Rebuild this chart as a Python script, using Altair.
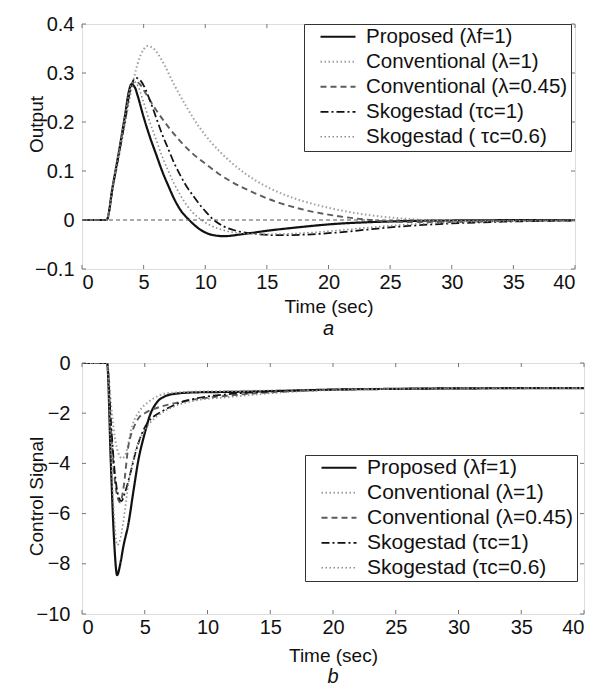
import altair as alt
import pandas as pd

FONT = "Liberation Sans"

names_a = ["Proposed (λf=1)", "Conventional (λ=1)", "Conventional (λ=0.45)",
           "Skogestad (τc=1)", "Skogestad ( τc=0.6)"]
names_b = ["Proposed (λf=1)", "Conventional (λ=1)", "Conventional (λ=0.45)",
           "Skogestad (τc=1)", "Skogestad (τc=0.6)"]
line_colors = ["#111111", "#a0a0a0", "#5c5c5c", "#111111", "#8c8c8c"]
line_dashes = [[1, 0], [1.5, 2.5], [6, 4], [8, 3, 2, 3], [1.5, 2.5]]
line_widths = [2.2, 1.6, 2.0, 2.0, 1.6]

# ---------- panel a : Output ----------
t_a_prop = [0, 2, 2.5, 3, 3.5, 3.8, 4, 4.3, 4.5, 5, 5.5, 6, 6.5, 7, 7.5, 8, 8.7, 9.5, 10.5, 11.5, 13, 15, 17.5, 20, 25, 30, 40]
y_a_prop = [0, 0, 0.07, 0.14, 0.215, 0.262, 0.277, 0.27, 0.255, 0.21, 0.17, 0.135, 0.10, 0.07, 0.042, 0.02, 0, -0.018, -0.03, -0.033, -0.029, -0.022, -0.015, -0.009, -0.003, -0.001, 0]

t_a_conv1 = [0, 2, 2.5, 3, 3.5, 4, 4.5, 5, 5.3, 5.8, 6.5, 7.5, 8.5, 9.5, 10.5, 12, 14, 16, 18, 20, 23, 26, 30, 35, 40]
y_a_conv1 = [0, 0, 0.065, 0.13, 0.2, 0.265, 0.318, 0.348, 0.355, 0.35, 0.325, 0.275, 0.23, 0.19, 0.158, 0.12, 0.082, 0.056, 0.038, 0.025, 0.011, 0.003, -0.002, -0.002, -0.001]

t_a_conv045 = [0, 2, 2.5, 3, 3.5, 4, 4.3, 4.7, 5.2, 6, 7, 8, 9, 10, 11, 12, 14, 16, 18, 20, 23, 26, 30, 35, 40]
y_a_conv045 = [0, 0, 0.068, 0.136, 0.205, 0.272, 0.283, 0.277, 0.257, 0.225, 0.19, 0.16, 0.135, 0.115, 0.096, 0.08, 0.055, 0.035, 0.021, 0.011, 0.001, -0.004, -0.004, -0.002, -0.001]

t_a_sko1 = [0, 2, 2.5, 3, 3.5, 4, 4.4, 4.8, 5.5, 6, 6.5, 7, 7.5, 8, 8.5, 9, 9.5, 10, 10.7, 11.5, 12.5, 14, 16, 18, 20, 23, 26, 30, 35, 40]
y_a_sko1 = [0, 0, 0.068, 0.136, 0.205, 0.275, 0.29, 0.283, 0.245, 0.21, 0.175, 0.145, 0.115, 0.09, 0.068, 0.05, 0.033, 0.018, 0, -0.013, -0.022, -0.028, -0.031, -0.03, -0.027, -0.02, -0.013, -0.007, -0.003, -0.001]

t_a_sko06 = [0, 2, 2.5, 3, 3.5, 4, 4.2, 4.6, 5, 5.5, 6, 6.5, 7, 7.5, 8, 8.5, 9, 9.7, 10.5, 11.5, 13, 15, 17, 20, 23, 26, 30, 35, 40]
y_a_sko06 = [0, 0, 0.07, 0.14, 0.212, 0.278, 0.283, 0.27, 0.24, 0.2, 0.165, 0.13, 0.1, 0.073, 0.05, 0.03, 0.015, 0, -0.012, -0.021, -0.027, -0.029, -0.028, -0.023, -0.016, -0.01, -0.005, -0.002, -0.001]

# ---------- panel b : Control Signal ----------
t_b_prop = [0, 2, 2.3, 2.55, 2.8, 3.05, 3.3, 3.7, 4.1, 4.5, 5.0, 5.4, 6.0, 6.6, 7.5, 9, 12, 15, 20, 25, 30, 40]
y_b_prop = [0, 0, -4.0, -7.0, -8.45, -8.0, -7.3, -6.4, -5.1, -3.85, -2.8, -2.1, -1.55, -1.33, -1.22, -1.17, -1.15, -1.12, -1.06, -1.03, -1.01, -1.0]

t_b_conv1 = [0, 2, 2.3, 2.6, 2.9, 3.2, 3.5, 4.0, 4.6, 5.3, 6.0, 6.6, 8, 10, 15, 20, 30, 40]
y_b_conv1 = [0, 0, -1.6, -2.9, -3.6, -3.8, -3.6, -2.5, -1.9, -1.55, -1.33, -1.22, -1.16, -1.13, -1.1, -1.05, -1.01, -1.0]

t_b_conv045 = [0, 2, 2.3, 2.6, 2.9, 3.05, 3.3, 3.7, 4.1, 4.5, 5.0, 5.8, 7.2, 9, 11.7, 14, 17, 21, 25, 30, 40]
y_b_conv045 = [0, 0, -2.5, -4.6, -5.45, -5.55, -5.0, -3.3, -2.6, -2.2, -2.0, -1.82, -1.62, -1.45, -1.3, -1.2, -1.12, -1.05, -1.03, -1.01, -1.0]

t_b_sko1 = [0, 2, 2.3, 2.6, 2.9, 3.15, 3.4, 3.8, 4.25, 4.7, 5.2, 5.8, 6.4, 7.7, 9, 11.7, 14, 17, 21, 25, 30, 40]
y_b_sko1 = [0, 0, -2.3, -4.3, -5.3, -5.5, -5.2, -4.5, -3.6, -2.9, -2.4, -2.1, -1.92, -1.6, -1.42, -1.24, -1.16, -1.1, -1.05, -1.03, -1.01, -1.0]

t_b_sko06 = [0, 2, 2.3, 2.55, 2.8, 3.0, 3.3, 3.7, 4.2, 4.8, 5.4, 6.1, 7.4, 9, 11.7, 14, 17, 21, 25, 30, 40]
y_b_sko06 = [0, 0, -3.5, -6.0, -7.25, -7.1, -6.3, -4.8, -3.6, -2.85, -2.4, -2.08, -1.72, -1.5, -1.36, -1.25, -1.14, -1.07, -1.03, -1.01, -1.0]

x_ticks = [0, 5, 10, 15, 20, 25, 30, 35, 40]
y_ticks_a = [-0.1, 0, 0.1, 0.2, 0.3, 0.4]
y_ticks_b = [-10, -8, -6, -4, -2, 0]

FRAME = "#777777"
TXT = "#111111"
NB = "\u00a0"


def frame_df(names, series):
    rows = []
    for name, (ts, ys) in zip(names, series):
        for t, y in zip(ts, ys):
            rows.append({"t": t, "v": y, "s": name})
    return pd.DataFrame(rows)


df_a = frame_df(names_a, [(t_a_prop, y_a_prop), (t_a_conv1, y_a_conv1), (t_a_conv045, y_a_conv045),
                          (t_a_sko1, y_a_sko1), (t_a_sko06, y_a_sko06)])
df_b = frame_df(names_b, [(t_b_prop, y_b_prop), (t_b_conv1, y_b_conv1), (t_b_conv045, y_b_conv045),
                          (t_b_sko1, y_b_sko1), (t_b_sko06, y_b_sko06)])


def legend(lx, ly, fs):
    return alt.Legend(title=None, orient="none", legendX=lx, legendY=ly, padding=3,
                      symbolType="stroke", symbolSize=1225, symbolOffset=12,
                      labelFont=FONT, labelFontSize=fs, labelColor=TXT,
                      labelOffset=9, labelLimit=400, rowPadding=3, clipHeight=19.5,
                      labelExpr="datum.label + '" + NB + NB + NB + "'",
                      strokeColor="#333333", fillColor="white", cornerRadius=0)


def panel(df, names, yticks, ydomain, ytitle, W, H, label_expr, lab_pad, xtitle_y, ytitle_y, lx, ly, fs):
    xs = alt.Scale(domain=[0, 40], nice=False, zero=False)
    ys = alt.Scale(domain=ydomain, nice=False, zero=False)
    lg = legend(lx, ly, fs)
    lines = alt.Chart(df).mark_line(interpolate="monotone", clip=True).encode(
        x=alt.X("t:Q", scale=xs,
                axis=alt.Axis(title="Time (sec)", values=x_ticks, format="d", ticks=False, tickSize=0,
                              domain=False, grid=False, labelFont=FONT, labelFontSize=20, labelColor=TXT,
                              labelPadding=3, titleFont=FONT, titleFontSize=19, titleFontWeight="normal",
                              titleColor=TXT, titleY=xtitle_y, titleBaseline="middle")),
        y=alt.Y("v:Q", scale=ys,
                axis=alt.Axis(title=ytitle, values=yticks, labelExpr=label_expr, ticks=False, tickSize=0,
                              domain=False, grid=False, labelFont=FONT, labelFontSize=20, labelColor=TXT,
                              labelPadding=lab_pad, titleFont=FONT, titleFontSize=19,
                              titleFontWeight="normal", titleColor=TXT,
                              titleX=-36, titleY=ytitle_y)),
        color=alt.Color("s:N", sort=names, scale=alt.Scale(domain=names, range=line_colors), legend=lg),
        strokeDash=alt.StrokeDash("s:N", sort=names, scale=alt.Scale(domain=names, range=line_dashes), legend=lg),
        strokeWidth=alt.StrokeWidth("s:N", sort=names, scale=alt.Scale(domain=names, range=line_widths), legend=lg),
    )
    tx = pd.DataFrame({"t": x_ticks})
    ty = pd.DataFrame({"v": yticks})
    tick_b = alt.Chart(tx).mark_rule(color=FRAME, strokeWidth=1).encode(
        x=alt.X("t:Q", scale=xs), y=alt.value(H), y2=alt.value(H - 4))
    tick_t = alt.Chart(tx).mark_rule(color=FRAME, strokeWidth=1).encode(
        x=alt.X("t:Q", scale=xs), y=alt.value(0), y2=alt.value(4))
    tick_l = alt.Chart(ty).mark_rule(color=FRAME, strokeWidth=1).encode(
        y=alt.Y("v:Q", scale=ys), x=alt.value(0), x2=alt.value(4))
    tick_r = alt.Chart(ty).mark_rule(color=FRAME, strokeWidth=1).encode(
        y=alt.Y("v:Q", scale=ys), x=alt.value(W), x2=alt.value(W - 4))
    return lines, [tick_b, tick_t, tick_l, tick_r]


zero_df = pd.DataFrame({"v": [0]})

lines_a, ticks_a = panel(df_a, names_a, y_ticks_a, [-0.1, 0.4], "Output", 493, 245,
                         "datum.value === 0 ? '0' : format(datum.value, '.1f')", 8, 37, 100, 222, 0, 20.5)
zero_rule = alt.Chart(zero_df).mark_rule(color="#555555", strokeWidth=1, strokeDash=[4, 3]).encode(
    y=alt.Y("v:Q", scale=alt.Scale(domain=[-0.1, 0.4], nice=False, zero=False)))
chart_a = alt.layer(lines_a, zero_rule, *ticks_a).properties(
    width=493, height=245,
    title=alt.TitleParams("a", orient="bottom", font=FONT, fontSize=20, fontStyle="italic",
                          fontWeight="normal", color=TXT, offset=3))

lines_b, ticks_b = panel(df_b, names_b, y_ticks_b, [-10, 0], "Control Signal", 502, 251,
                         "format(datum.value, 'd')", 12, 41, 133, 223, 92, 21)
chart_b = alt.layer(lines_b, *ticks_b).properties(
    width=502, height=251,
    title=alt.TitleParams("b", orient="bottom", font=FONT, fontSize=20, fontStyle="italic",
                          fontWeight="normal", color=TXT, offset=2))

chart = alt.vconcat(chart_a, chart_b, spacing=12).resolve_scale(
    color="independent", strokeDash="independent", strokeWidth="independent",
    x="independent", y="independent"
).resolve_legend(color="independent", strokeDash="independent", strokeWidth="independent").properties(
    padding={"left": 18, "top": 5, "right": 0, "bottom": 0}
).configure_view(stroke=FRAME, strokeWidth=1).configure(background="white")

chart.save("out.html", embed_options={"renderer": "svg", "actions": False})
